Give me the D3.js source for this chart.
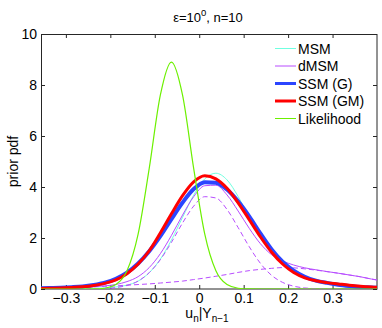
<!DOCTYPE html>
<html>
<head>
<meta charset="utf-8">
<script src="https://cdn.jsdelivr.net/npm/d3@7"></script>
<style>
  body { margin: 0; background: #fff; }
  svg text { font-family: "Liberation Sans", Arial, Helvetica, sans-serif; fill: #000; }
</style>
</head>
<body>
<script>

const xs = [-0.3625, -0.3375, -0.3125, -0.2875, -0.2625, -0.2375, -0.2125, -0.1875,
  -0.1625, -0.1375, -0.1125, -0.0875, -0.0625, -0.0375, -0.0125, 0.0125,
  0.0375, 0.0625, 0.0875, 0.1125, 0.1375, 0.1625, 0.1875, 0.2125,
  0.2375, 0.2625, 0.2875, 0.3125, 0.3375, 0.3625, 0.3875, 0.4125];

const msm = [0.005, 0.006, 0.008, 0.01, 0.015, 0.025, 0.04, 0.08,
  0.15, 0.31, 0.64, 1.17, 1.92, 2.81, 3.68, 4.32,
  4.54, 4.28, 3.63, 2.80, 2.02, 1.42, 1.02, 0.70,
  0.48, 0.32, 0.21, 0.14, 0.09, 0.06, 0.04, 0.03];

const dmsm = [0.02, 0.03, 0.04, 0.055, 0.07, 0.09, 0.123, 0.178,
  0.29, 0.485, 0.84, 1.385, 2.10, 2.90, 3.62, 4.05,
  4.07, 3.69, 3.06, 2.38, 1.78, 1.35, 1.10, 0.94,
  0.83, 0.754, 0.684, 0.62, 0.55, 0.48, 0.39, 0.32];

// the two components of dMSM (dashed)
const dmsmNarrow = [0, 0, 0, 0, 0, 0.005, 0.018, 0.053,
  0.14, 0.31, 0.64, 1.15, 1.83, 2.59, 3.25, 3.62,
  3.57, 3.12, 2.41, 1.66, 1.01, 0.54, 0.26, 0.11,
  0.041, 0.014, 0.004, 0, 0, 0, 0, 0];

const dmsmBroad = [0.02, 0.03, 0.04, 0.055, 0.07, 0.085, 0.105, 0.125,
  0.15, 0.175, 0.20, 0.235, 0.27, 0.31, 0.37, 0.43,
  0.50, 0.57, 0.65, 0.72, 0.77, 0.81, 0.84, 0.83,
  0.79, 0.74, 0.68, 0.62, 0.55, 0.48, 0.39, 0.32];

const ssmG = [0.03, 0.04, 0.05, 0.07, 0.10, 0.16, 0.25, 0.40,
  0.64, 1.00, 1.48, 2.07, 2.74, 3.39, 3.92, 4.19,
  4.17, 3.90, 3.44, 2.85, 2.18, 1.56, 1.07, 0.72,
  0.48, 0.33, 0.24, 0.17, 0.12, 0.08, 0.06, 0.04];

const ssmGM = [0.02, 0.03, 0.04, 0.06, 0.09, 0.14, 0.22, 0.36,
  0.60, 0.98, 1.50, 2.20, 2.95, 3.66, 4.20, 4.44,
  4.32, 3.95, 3.38, 2.72, 2.05, 1.45, 0.98, 0.65,
  0.44, 0.32, 0.25, 0.20, 0.15, 0.11, 0.08, 0.06];

const likelihood = [0, 0, 0, 0, 0, 0.004, 0.030, 0.172,
  0.712, 2.15, 4.73, 7.60, 8.9, 7.60, 4.73, 2.15,
  0.712, 0.172, 0.030, 0.004, 0, 0, 0, 0,
  0, 0, 0, 0, 0, 0, 0, 0];

const xTicks = [-0.3, -0.2, -0.1, 0, 0.1, 0.2, 0.3];
const yTicks = [0, 2, 4, 6, 8, 10];

const legendNames = ["MSM", "dMSM", "SSM (G)", "SSM (GM)", "Likelihood"];

const w = 382, h = 328;
const mLeft = 41, mRight = 377, mTop = 34, mBottom = 289;
const tick = 4;

const svg = d3.select("body").append("svg")
  .attr("width", w)
  .attr("height", h);

const x = d3.scaleLinear().domain([-0.356, 0.4]).range([mLeft, mRight]);
const y = d3.scaleLinear().domain([0, 10]).range([mBottom, mTop]);

svg.append("clipPath").attr("id", "plotclip")
  .append("rect")
  .attr("x", mLeft).attr("y", mTop)
  .attr("width", mRight - mLeft).attr("height", mBottom - mTop);

// axes (ticks point inwards, like matlab)
const axisColor = "#262626";
function styleAxis(g) {
  g.select(".domain").remove();
  g.selectAll(".tick line").attr("stroke", axisColor);
  g.selectAll(".tick text")
    .attr("font-size", "14px")
    .attr("font-family", "Liberation Sans, Arial, sans-serif")
    .attr("fill", "#000");
}

svg.append("g")
  .attr("transform", "translate(0," + mBottom + ")")
  .call(d3.axisBottom(x).tickValues(xTicks).tickSize(-tick).tickPadding(4)
    .tickFormat(d => d3.format(".1f")(d).replace("-", "\u2212").replace(/^0\.0$/, "0")))
  .call(styleAxis);

svg.append("g")
  .attr("transform", "translate(0," + mTop + ")")
  .call(d3.axisTop(x).tickValues(xTicks).tickSize(-tick).tickFormat(""))
  .call(styleAxis);

svg.append("g")
  .attr("transform", "translate(" + mLeft + ",0)")
  .call(d3.axisLeft(y).tickValues(yTicks).tickSize(-tick).tickPadding(4))
  .call(styleAxis);

svg.append("g")
  .attr("transform", "translate(" + mRight + ",0)")
  .call(d3.axisRight(y).tickValues(yTicks).tickSize(-tick).tickFormat(""))
  .call(styleAxis);

svg.append("rect")
  .attr("x", mLeft + 0.5).attr("y", mTop + 0.5)
  .attr("width", mRight - mLeft - 0.5).attr("height", mBottom - mTop - 0.5)
  .attr("fill", "none")
  .attr("stroke", axisColor)
  .attr("stroke-width", 1);

// curves
const line = d3.line()
  .x((d, i) => x(xs[i]))
  .y(d => y(d))
  .curve(d3.curveMonotoneX);

const plot = svg.append("g").attr("clip-path", "url(#plotclip)");

const series = [
  { data: msm, color: "#70ffe0", width: 1, dash: null },
  { data: dmsm, color: "#b84dff", width: 1, dash: null },
  { data: dmsmNarrow, color: "#b84dff", width: 1, dash: "5,3" },
  { data: dmsmBroad, color: "#b84dff", width: 1, dash: "5,3" },
  { data: ssmG, color: "#2b45ff", width: 4, dash: null },
  { data: ssmGM, color: "#ff0000", width: 3, dash: null },
  { data: likelihood, color: "#6cf000", width: 1.2, dash: null }
];

series.forEach(s => {
  plot.append("path")
    .attr("d", line(s.data))
    .attr("fill", "none")
    .attr("stroke", s.color)
    .attr("stroke-width", s.width)
    .attr("stroke-dasharray", s.dash)
    .attr("stroke-linejoin", "round");
});

// legend (no box)
const legendStyle = [series[0], series[1], series[4], series[5], series[6]];
const leg = svg.append("g");
legendNames.forEach((name, i) => {
  const ly = 48.5 + i * 17.5;
  leg.append("line")
    .attr("x1", 275).attr("x2", 296)
    .attr("y1", ly).attr("y2", ly)
    .attr("stroke", legendStyle[i].color)
    .attr("stroke-width", legendStyle[i].width > 2 ? 3 : 1);
  leg.append("text")
    .attr("x", 298).attr("y", ly + 5)
    .attr("font-size", "14px")
    .text(name);
});

// title
const title = svg.append("text")
  .attr("x", 208).attr("y", 22)
  .attr("text-anchor", "middle")
  .attr("font-size", "13px");
title.append("tspan").text("\u03b5=10");
title.append("tspan").attr("dy", -6).attr("font-size", "9.5px").text("0");
title.append("tspan").attr("dy", 6).text(", n=10");

// axis labels
const xl = svg.append("text")
  .attr("x", 207).attr("y", 318)
  .attr("text-anchor", "middle")
  .attr("font-size", "14px");
xl.append("tspan").text("u");
xl.append("tspan").attr("dy", 4).attr("font-size", "10px").text("n");
xl.append("tspan").attr("dy", -4).text("|Y");
xl.append("tspan").attr("dy", 4).attr("font-size", "10px").text("n\u22121");

svg.append("text")
  .attr("transform", "translate(18," + ((mTop + mBottom) / 2) + ") rotate(-90)")
  .attr("text-anchor", "middle")
  .attr("font-size", "14px")
  .text("prior pdf");

</script>
</body>
</html>
